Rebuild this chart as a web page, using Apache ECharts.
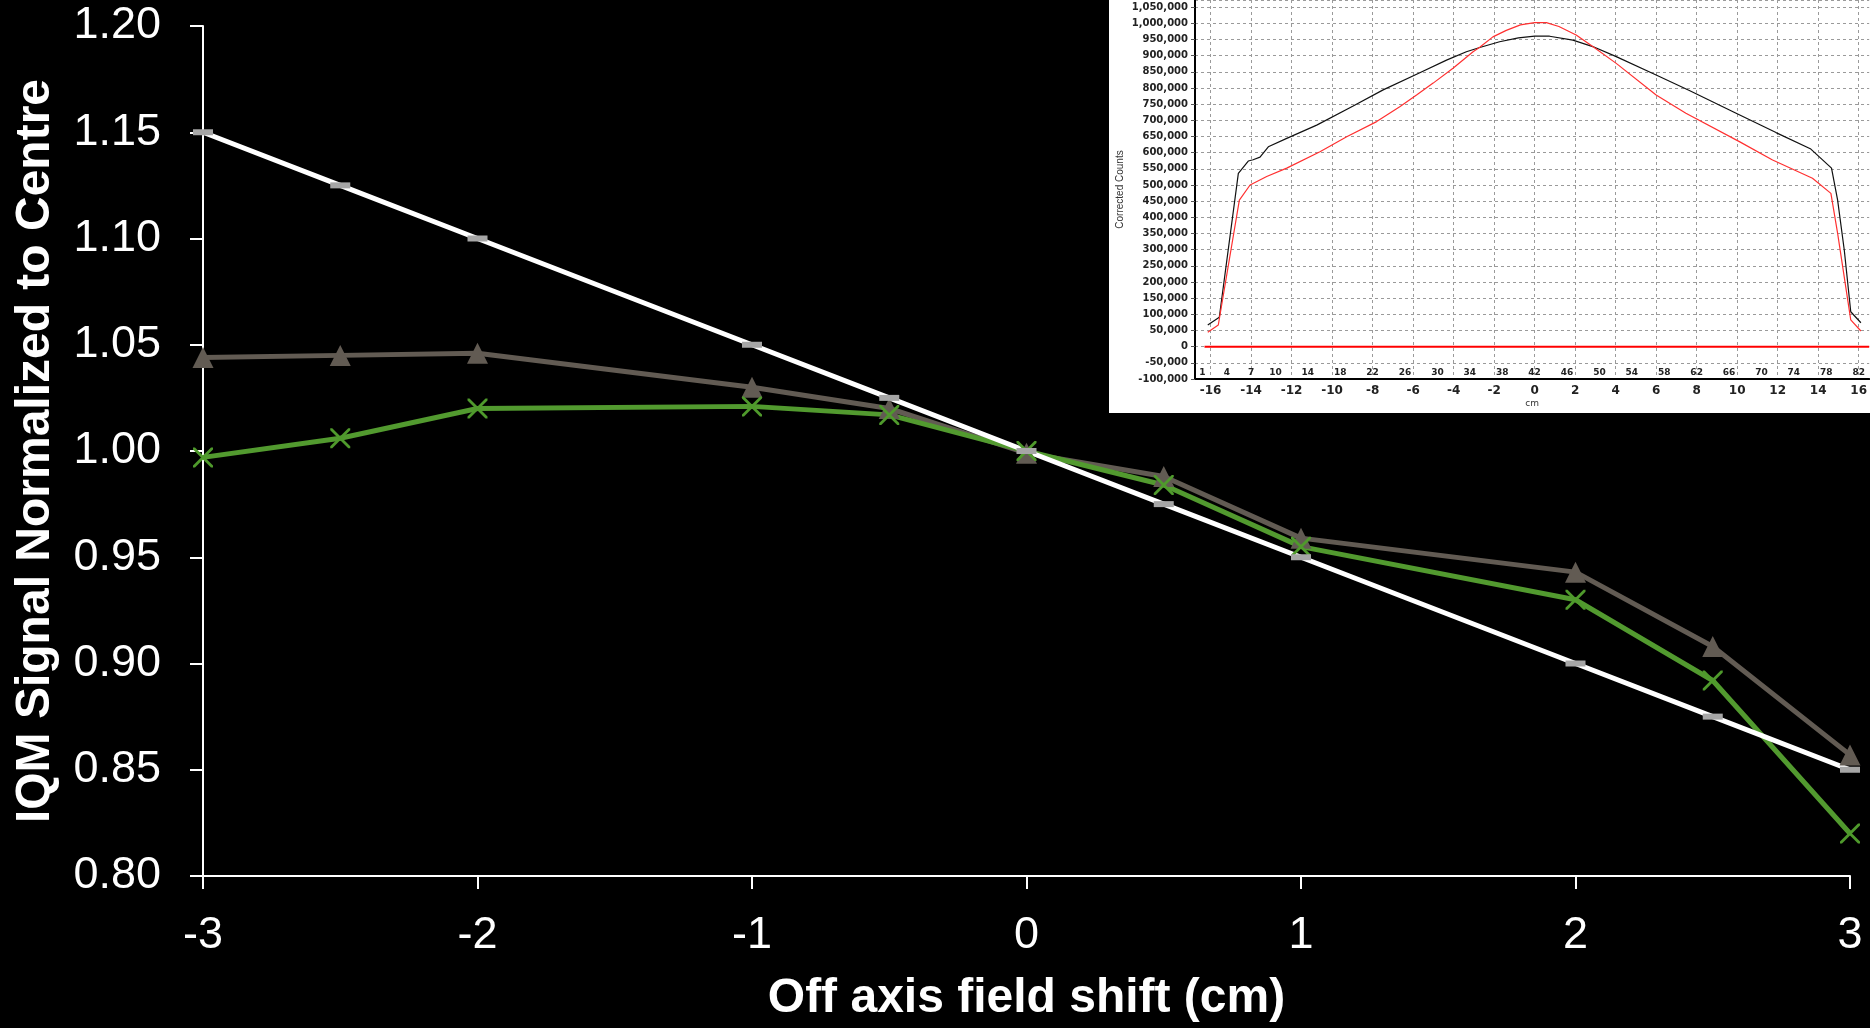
<!DOCTYPE html>
<html>
<head>
<meta charset="utf-8">
<script src="https://cdn.jsdelivr.net/npm/echarts@6/dist/echarts.min.js"></script>
<style>
html,body{margin:0;padding:0;background:#000;}
#chart{width:1870px;height:1028px;}
</style>
</head>
<body>
<div id="chart"></div>
<script>
// ---------- main chart data ----------
const xShift      = [-3, -2.5, -2, -1, -0.5, 0, 0.5, 1, 2, 2.5, 3];
const expected    = [1.150, 1.125, 1.100, 1.050, 1.025, 1.000, 0.975, 0.950, 0.900, 0.875, 0.850];
const measuredTri = [1.044, 1.045, 1.046, 1.030, 1.020, 0.999, 0.988, 0.959, 0.943, 0.908, 0.857];
const measuredX   = [0.997, 1.006, 1.020, 1.021, 1.017, 1.000, 0.984, 0.955, 0.930, 0.892, 0.820];

// ---------- inset profile data ----------
const blackCm     = [-16.14, -15.57, -14.63, -14.14, -13.9, -13.56, -13.15, -12.24, -10.76, -8.96, -7.48, -5.67, -4.35, -3.37, -2.71, -1.73, -0.8, 0, 0.74, 1.89, 2.87, 4.03, 6.0, 7.64, 9.95, 11.92, 13.64, 14.66, 14.96, 15.29, 15.61, 16.11];
const blackCounts = [67000, 91000, 536000, 574000, 578000, 586000, 618000, 644000, 685000, 744000, 794000, 847000, 886000, 912000, 925000, 943000, 955000, 960000, 960000, 948000, 928000, 897000, 840000, 792000, 722000, 662000, 611000, 552000, 454000, 299000, 108000, 74000];
const redCm       = [-16.14, -15.62, -14.58, -14.05, -13.23, -12.24, -10.6, -9.28, -7.8, -6.66, -5.83, -5.01, -4.03, -3.04, -2.71, -2.06, -1.4, -0.7, 0, 0.58, 1.2, 2.05, 2.87, 4.03, 6.0, 7.47, 10.11, 11.75, 13.72, 14.63, 14.96, 15.61, 16.11];
const redCounts   = [44500, 67000, 453000, 500000, 526000, 552000, 603000, 649000, 696000, 742000, 778000, 815000, 861000, 912000, 926000, 958000, 978000, 995000, 1002000, 1002000, 990000, 964000, 928000, 876000, 778000, 722000, 634000, 577000, 521000, 474000, 351000, 83000, 48500];
const baselineCm     = [-16.3, 16.52];
const baselineCounts = [0, 0];
const insetCmTicks    = [-16, -14, -12, -10, -8, -6, -4, -2, 0, 2, 4, 6, 8, 10, 12, 14, 16];
const insetIndexTicks = [1, 4, 7, 10, 14, 18, 22, 26, 30, 34, 38, 42, 46, 50, 54, 58, 62, 66, 70, 74, 78, 82];

const zip = (a, b) => a.map((v, i) => [v, b[i]]);

// inset axis extents (cm) and the element-index axis derived from them
const CM_MIN = -16.77, CM_MAX = 16.52;
const IDX_CENTRE = 42, CM_PER_IDX = 0.4;
const IDX_MIN = CM_MIN / CM_PER_IDX + IDX_CENTRE;
const IDX_MAX = CM_MAX / CM_PER_IDX + IDX_CENTRE;

const FONT = '"Liberation Sans", Arial, sans-serif';
const IFONT = '"DejaVu Sans", sans-serif';

const crossPath = 'path://M0,0 L1,0 L10,9 L10,10 L9,10 L0,1 Z M9,0 L10,0 L10,1 L1,10 L0,10 L0,9 Z';

const chart = echarts.init(document.getElementById('chart'), null, {renderer: 'canvas'});
chart.setOption({
  backgroundColor: '#000000',
  animation: false,
  graphic: [{
    type: 'rect', z: -10, silent: true,
    shape: {x: 1109, y: 0, width: 761, height: 413},
    style: {fill: '#ffffff'}
  }],
  grid: [
    {left: 203, right: 20, top: 26, bottom: 149},
    {left: 1195, right: 0, top: 0, bottom: 649}
  ],
  xAxis: [
    {
      gridIndex: 0, type: 'value', min: -3, max: 3, interval: 1,
      name: 'Off axis field shift (cm)', nameLocation: 'middle', nameGap: 99,
      nameTextStyle: {color: '#ffffff', fontSize: 48, fontWeight: 'bold', fontFamily: FONT},
      axisLine: {onZero: false, lineStyle: {color: '#ffffff', width: 2}},
      axisTick: {show: true, length: 13, lineStyle: {color: '#ffffff', width: 2}},
      axisLabel: {color: '#ffffff', fontSize: 45, fontFamily: FONT, margin: 37},
      splitLine: {show: false}
    },
    {
      gridIndex: 1, type: 'value', min: CM_MIN, max: CM_MAX,
      name: 'cm', nameLocation: 'middle', nameGap: 20,
      nameTextStyle: {color: '#333333', fontSize: 9, fontFamily: IFONT},
      axisLine: {onZero: false, lineStyle: {color: '#000000', width: 2}},
      axisTick: {show: false, customValues: insetCmTicks},
      axisLabel: {color: '#222222', fontSize: 12, fontWeight: 'bold', fontFamily: IFONT, margin: 6, customValues: insetCmTicks},
      splitLine: {show: true, lineStyle: {color: '#9a9a9a', type: [3, 3], width: 1}}
    },
    {
      gridIndex: 1, type: 'value', min: IDX_MIN, max: IDX_MAX, position: 'bottom',
      axisLine: {show: false, onZero: false},
      axisTick: {show: false, customValues: insetIndexTicks},
      axisLabel: {inside: true, color: '#222222', fontSize: 9, fontWeight: 'bold', fontFamily: IFONT, margin: 2, customValues: insetIndexTicks},
      splitLine: {show: false}
    }
  ],
  yAxis: [
    {
      gridIndex: 0, type: 'value', min: 0.8, max: 1.2, interval: 0.05,
      name: 'IQM Signal Normalized to Centre', nameLocation: 'middle', nameGap: 143,
      nameTextStyle: {color: '#ffffff', fontSize: 48, fontWeight: 'bold', fontFamily: FONT},
      axisLine: {show: true, onZero: false, lineStyle: {color: '#ffffff', width: 2}},
      axisTick: {show: true, length: 13, lineStyle: {color: '#ffffff', width: 2}},
      axisLabel: {color: '#ffffff', fontSize: 45, fontFamily: FONT, margin: 42, formatter: v => v.toFixed(2)},
      splitLine: {show: false}
    },
    {
      gridIndex: 1, type: 'value', min: -100000, max: 1072000, interval: 50000,
      name: 'Corrected Counts', nameLocation: 'middle', nameGap: 70,
      nameTextStyle: {color: '#333333', fontSize: 10, fontFamily: '"Liberation Sans Narrow", "Liberation Sans", sans-serif'},
      axisLine: {show: true, onZero: false, lineStyle: {color: '#000000', width: 2}},
      axisTick: {show: true, length: 4, lineStyle: {color: '#555555'}},
      axisLabel: {color: '#222222', fontSize: 10, fontWeight: 'bold', fontFamily: IFONT, margin: 7, showMaxLabel: false,
        formatter: v => (v % 50000 === 0 ? v.toLocaleString('en-US') : '')},
      splitLine: {show: true, lineStyle: {color: '#9a9a9a', type: [3, 3], width: 1}}
    }
  ],
  series: [
    {
      name: 'Measured (triangle)', type: 'line', xAxisIndex: 0, yAxisIndex: 0, clip: false,
      data: zip(xShift, measuredTri),
      lineStyle: {color: '#625b53', width: 5},
      symbol: 'triangle', symbolSize: 21,
      itemStyle: {color: '#625b53'}
    },
    {
      name: 'Measured (cross)', type: 'line', xAxisIndex: 0, yAxisIndex: 0, clip: false,
      data: zip(xShift, measuredX),
      lineStyle: {color: '#529a2f', width: 5},
      symbol: crossPath, symbolSize: 20,
      itemStyle: {color: '#4f9a2c'}
    },
    {
      name: 'Expected', type: 'line', xAxisIndex: 0, yAxisIndex: 0, clip: false,
      data: zip(xShift, expected),
      lineStyle: {color: '#ffffff', width: 5},
      symbol: 'rect', symbolSize: [20, 6],
      itemStyle: {color: '#a6a6a6'}
    },
    {
      name: 'Baseline', type: 'line', xAxisIndex: 1, yAxisIndex: 1, clip: true,
      data: zip(baselineCm, baselineCounts), showSymbol: false, symbol: 'none',
      lineStyle: {color: '#ff0000', width: 2}
    },
    {
      name: 'Profile black', type: 'line', xAxisIndex: 1, yAxisIndex: 1, clip: true,
      data: zip(blackCm, blackCounts), showSymbol: false, symbol: 'none',
      lineStyle: {color: '#111111', width: 1.2}
    },
    {
      name: 'Profile red', type: 'line', xAxisIndex: 1, yAxisIndex: 1, clip: true,
      data: zip(redCm, redCounts), showSymbol: false, symbol: 'none',
      lineStyle: {color: '#ff3030', width: 1.2}
    }
  ]
});
</script>
</body>
</html>
